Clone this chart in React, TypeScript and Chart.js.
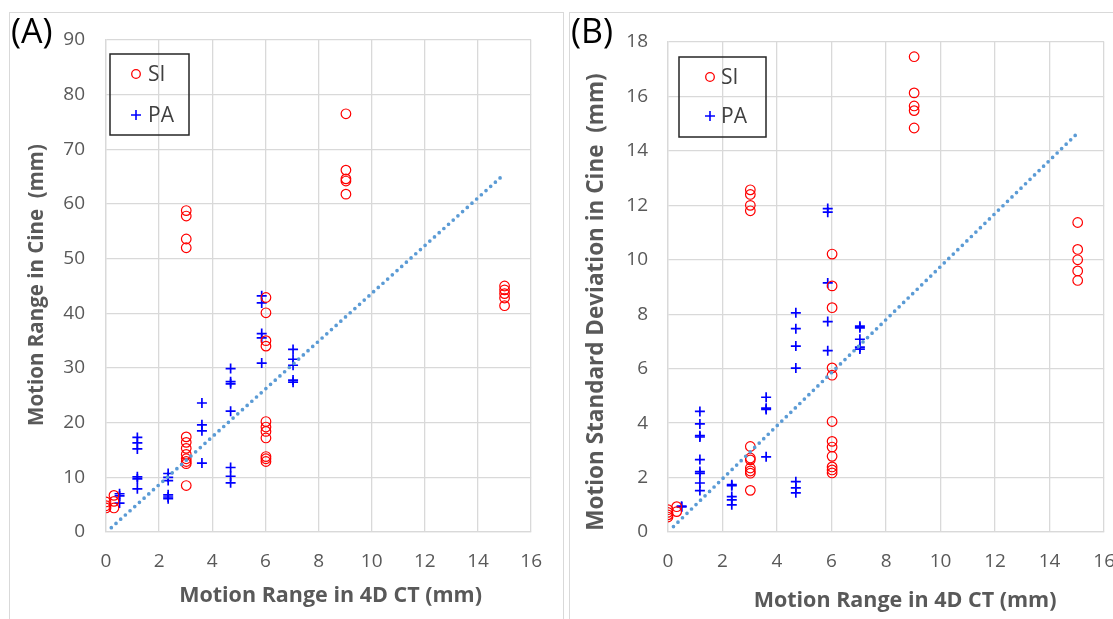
import React, { useEffect, useRef } from "react";
import { Chart, registerables } from "chart.js";

Chart.register(...registerables);

// ---------- Panel A: Motion Range in Cine ----------
const xTicks = [0, 2, 4, 6, 8, 10, 12, 14, 16];
const yTicksA = [0, 10, 20, 30, 40, 50, 60, 70, 80, 90];

const siA_x = [0, 0.3, 3.02, 6.02, 9.03, 15.0];
const siA_y = [
  [5.5, 4.8, 4.4],
  [6.7, 5.6, 4.4],
  [58.8, 57.8, 53.6, 52.0, 17.4, 16.4, 15.3, 14.2, 13.4, 12.9, 12.5, 8.5],
  [42.9, 40.1, 35.0, 34.0, 20.2, 19.2, 18.4, 17.2, 13.8, 13.4, 12.9],
  [76.5, 66.2, 64.6, 64.2, 61.8],
  [45.0, 44.3, 43.6, 42.8, 41.4],
];

const paA_x = [0.51, 1.18, 2.34, 3.61, 4.69, 5.86, 7.04];
const paA_y = [
  [7.0, 6.6, 5.3],
  [17.3, 16.3, 15.2, 10.1, 9.7, 7.9],
  [10.7, 10.0, 9.4, 6.8, 6.4, 6.1],
  [23.6, 19.6, 18.5, 12.6],
  [29.9, 27.5, 27.1, 22.1, 11.8, 10.2, 9.0],
  [43.2, 41.9, 36.3, 35.5, 30.9],
  [33.4, 31.6, 30.5, 27.8, 27.4],
];

const trendA_x = [0.2, 14.86];
const trendA_y = [0.8, 64.9];

// ---------- Panel B: Motion Standard Deviation in Cine ----------
const yTicksB = [0, 2, 4, 6, 8, 10, 12, 14, 16, 18];

const siB_x = [0, 0.32, 3.02, 6.02, 9.03, 15.03];
const siB_y = [
  [0.82, 0.72, 0.63, 0.55],
  [0.93, 0.75],
  [12.57, 12.4, 12.0, 11.8, 3.14, 2.72, 2.65, 2.35, 2.24, 2.16, 1.53],
  [10.21, 9.04, 8.24, 6.03, 5.76, 4.06, 3.33, 3.12, 2.78, 2.39, 2.28, 2.17],
  [17.46, 16.13, 15.65, 15.48, 14.84],
  [11.37, 10.38, 10.0, 9.59, 9.24],
];

const paB_x = [0.5, 1.17, 2.34, 3.6, 4.69, 5.86, 7.04];
const paB_y = [
  [0.95, 0.92],
  [4.43, 3.97, 3.54, 3.49, 2.66, 2.22, 2.15, 1.8, 1.52],
  [1.74, 1.7, 1.3, 1.18, 1.0],
  [4.95, 4.55, 4.5, 2.76],
  [8.05, 7.47, 6.83, 6.02, 1.85, 1.62, 1.44],
  [11.88, 11.75, 9.15, 7.73, 6.66],
  [7.56, 7.5, 7.08, 6.79, 6.72],
];

const trendB_x = [0.2, 14.97];
const trendB_y = [0.2, 14.6];

const seriesLabels = ["SI", "PA"];
const xTitle = "Motion Range in 4D CT (mm)";
const yTitleA = "Motion Range in Cine  (mm)";
const yTitleB = "Motion Standard Deviation in Cine  (mm)";

// ---------- helpers ----------
const toPoints = (xs: number[], ys: number[][]) =>
  xs.flatMap((x, i) => ys[i].map((y) => ({ x, y })));
const pairs = (xs: number[], ys: number[]) => xs.map((x, i) => ({ x, y: ys[i] }));

const GRID = "#D9D9D9";
const TICK_COLOR = "#595959";
const FONT = '"Open Sans", "DejaVu Sans", sans-serif';

const boxLegendPlugin = {
  id: "boxLegend",
  afterDatasetsDraw(chart: any, _args: any, opts: any) {
    if (!opts || !opts.w) return;
    const { ctx, chartArea } = chart;
    const x0 = chartArea.left + opts.dx;
    const y0 = chartArea.top + opts.dy;
    ctx.save();
    ctx.strokeStyle = "#262626";
    ctx.lineWidth = 1.5;
    ctx.strokeRect(x0, y0, opts.w, opts.h);
    const items = chart.data.datasets.filter((d: any) => d.label && d.label !== "trend");
    items.forEach((d: any, i: number) => {
      const cy = y0 + opts.rows[i];
      const cx = x0 + opts.markerX;
      ctx.strokeStyle = d.pointBorderColor;
      if (d.pointStyle === "circle") {
        ctx.lineWidth = 1.3;
        ctx.beginPath();
        ctx.arc(cx, cy, 4.3, 0, Math.PI * 2);
        ctx.stroke();
      } else {
        ctx.lineWidth = 1.6;
        ctx.beginPath();
        ctx.moveTo(cx - 5, cy);
        ctx.lineTo(cx + 5, cy);
        ctx.moveTo(cx, cy - 5);
        ctx.lineTo(cx, cy + 5);
        ctx.stroke();
      }
      ctx.fillStyle = "#404040";
      ctx.font = `21px ${FONT}`;
      ctx.textBaseline = "middle";
      ctx.textAlign = "left";
      ctx.fillText(d.label, x0 + opts.textX, cy + 1);
    });
    ctx.restore();
  },
};

// axis titles, placed relative to the chart area
const axisTitlePlugin = {
  id: "axisTitles",
  afterDraw(chart: any, _args: any, opts: any) {
    if (!opts || !opts.x) return;
    const { ctx, chartArea } = chart;
    ctx.save();
    ctx.fillStyle = TICK_COLOR;
    ctx.textAlign = "center";
    ctx.textBaseline = "middle";
    ctx.font = `bold ${opts.x.size}px ${FONT}`;
    ctx.fillText(opts.x.text, (chartArea.left + chartArea.right) / 2 + opts.x.dx, chartArea.bottom + opts.x.dy);
    ctx.translate(opts.y.x, (chartArea.top + chartArea.bottom) / 2 + opts.y.dy);
    ctx.rotate(-Math.PI / 2);
    ctx.font = `bold ${opts.y.size}px ${FONT}`;
    ctx.fillText(opts.y.text, 0, 0);
    ctx.restore();
  },
};

type PanelProps = {
  width: number;
  height: number;
  si: { x: number; y: number }[];
  pa: { x: number; y: number }[];
  trend: { x: number; y: number }[];
  yTicks: number[];
  pad: { top: number; right: number };
  yAxisWidth: number;
  tickPadY: number;
  titles: any;
  legend: any;
};

function Panel(p: PanelProps) {
  const ref = useRef<HTMLCanvasElement>(null);
  useEffect(() => {
    if (!ref.current) return;
    const chart = new Chart(ref.current, {
      type: "scatter",
      data: {
        datasets: [
          {
            label: "trend",
            data: p.trend,
            showLine: true,
            borderColor: "#5B9BD5",
            backgroundColor: "#5B9BD5",
            borderWidth: 3.7,
            borderDash: [0, 6.3],
            borderCapStyle: "round",
            pointRadius: 0,
            order: 0,
          } as any,
          {
            label: seriesLabels[0],
            data: p.si,
            pointStyle: "circle",
            pointRadius: 4.8,
            pointBorderWidth: 1.2,
            pointBorderColor: "#FF0000",
            pointBackgroundColor: "rgba(0,0,0,0)",
            borderColor: "#FF0000",
            backgroundColor: "rgba(0,0,0,0)",
            order: 1,
          } as any,
          {
            label: seriesLabels[1],
            data: p.pa,
            pointStyle: "cross",
            pointRadius: 5,
            pointBorderWidth: 1.7,
            pointBorderColor: "#0000FF",
            pointBackgroundColor: "#0000FF",
            borderColor: "#0000FF",
            backgroundColor: "#0000FF",
            order: 2,
          } as any,
        ],
      },
      options: {
        responsive: false,
        animation: false,
        devicePixelRatio: 1,
        layout: { padding: { left: 0, top: p.pad.top, right: p.pad.right, bottom: 0 } },
        plugins: {
          legend: { display: false },
          tooltip: { enabled: false },
          boxLegend: p.legend,
          axisTitles: p.titles,
        } as any,
        scales: {
          x: {
            type: "linear",
            min: xTicks[0],
            max: xTicks[xTicks.length - 1],
            afterBuildTicks: (s: any) => {
              s.ticks = xTicks.map((v) => ({ value: v }));
            },
            afterFit: (s: any) => {
              s.height = 87;
            },
            grid: { color: GRID, lineWidth: 1.3, drawTicks: false },
            border: { display: true, color: GRID, width: 1.3 },
            ticks: {
              color: TICK_COLOR,
              font: { family: FONT, size: 19 },
              padding: 18,
              maxRotation: 0,
            },
          },
          y: {
            type: "linear",
            min: p.yTicks[0],
            max: p.yTicks[p.yTicks.length - 1],
            afterBuildTicks: (s: any) => {
              s.ticks = p.yTicks.map((v) => ({ value: v }));
            },
            afterFit: (s: any) => {
              s.width = p.yAxisWidth;
            },
            grid: { color: GRID, lineWidth: 1.3, drawTicks: false },
            border: { display: true, color: GRID, width: 1.3 },
            ticks: {
              color: TICK_COLOR,
              font: { family: FONT, size: 19 },
              padding: p.tickPadY,
            },
          },
        },
      } as any,
      plugins: [boxLegendPlugin, axisTitlePlugin],
    });
    return () => chart.destroy();
  }, []);
  return <canvas ref={ref} width={p.width} height={p.height} style={{ display: "block" }} />;
}

export default function App() {
  const labelStyle: React.CSSProperties = {
    position: "absolute",
    top: 13,
    fontFamily: FONT,
    fontSize: 34,
    lineHeight: "34px",
    color: "#000",
  };
  return (
    <div
      style={{
        position: "fixed",
        left: 0,
        top: 0,
        width: 1113,
        height: 619,
        background: "#fff",
        overflow: "hidden",
      }}
    >
      <div
        style={{
          position: "absolute",
          left: 9,
          top: 12,
          width: 553,
          height: 640,
          border: `1px solid ${GRID}`,
        }}
      />
      <div
        style={{
          position: "absolute",
          left: 569,
          top: 12,
          width: 600,
          height: 640,
          border: `1px solid ${GRID}`,
        }}
      />
      <div style={{ position: "absolute", left: 0, top: 0 }}>
        <Panel
          width={560}
          height={619}
          si={toPoints(siA_x, siA_y)}
          pa={toPoints(paA_x, paA_y)}
          trend={pairs(trendA_x, trendA_y)}
          yTicks={yTicksA}
          pad={{ top: 40, right: 17 }}
          yAxisWidth={106}
          tickPadY={21}
          titles={{
            x: { text: xTitle, size: 21.5, dx: 12, dy: 64 },
            y: { text: yTitleA, size: 20.5, x: 37, dy: -1 },
          }}
          legend={{ dx: 4, dy: 14, w: 79, h: 81, rows: [20, 61], markerX: 26, textX: 38 }}
        />
      </div>
      <div style={{ position: "absolute", left: 560, top: 0 }}>
        <Panel
          width={573}
          height={619}
          si={toPoints(siB_x, siB_y)}
          pa={toPoints(paB_x, paB_y)}
          trend={pairs(trendB_x, trendB_y)}
          yTicks={yTicksB}
          pad={{ top: 42, right: 27 }}
          yAxisWidth={108}
          tickPadY={20}
          titles={{
            x: { text: xTitle, size: 21.5, dx: 19, dy: 69 },
            y: { text: yTitleB, size: 22.5, x: 37, dy: 15 },
          }}
          legend={{ dx: 11, dy: 15, w: 87, h: 80, rows: [20, 59], markerX: 31, textX: 42 }}
        />
      </div>
      <div style={{ ...labelStyle, left: 11 }}>(A)</div>
      <div style={{ ...labelStyle, left: 571 }}>(B)</div>
    </div>
  );
}
